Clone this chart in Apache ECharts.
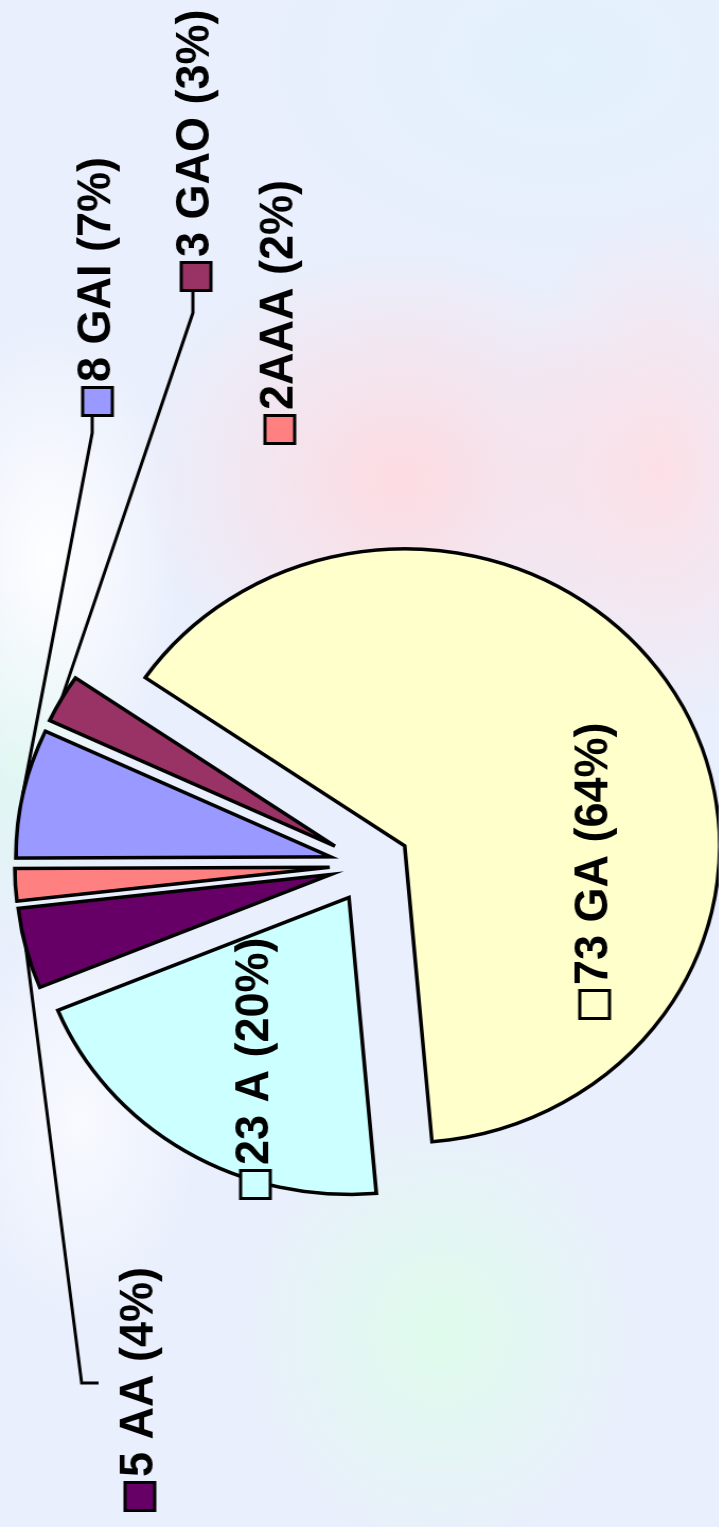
<!DOCTYPE html>
<html>
<head>
<meta charset="utf-8">
<script src="https://cdn.jsdelivr.net/npm/echarts@6/dist/echarts.min.js"></script>
<style>
  html, body {
    margin: 0;
    padding: 0;
    width: 719px;
    height: 1527px;
    overflow: hidden;
  }
  body {
    background:
      radial-gradient(ellipse 260px 230px at 400px 480px, rgba(255, 218, 224, 0.95), rgba(255, 218, 224, 0)),
      radial-gradient(ellipse 160px 260px at 660px 470px, rgba(255, 222, 228, 0.9), rgba(255, 222, 228, 0)),
      radial-gradient(ellipse 200px 220px at 440px 1330px, rgba(222, 252, 234, 0.95), rgba(222, 252, 234, 0)),
      radial-gradient(ellipse 130px 240px at 50px 560px, rgba(255, 255, 255, 0.95), rgba(255, 255, 255, 0)),
      radial-gradient(ellipse 90px 200px at 20px 760px, rgba(222, 248, 240, 0.9), rgba(222, 248, 240, 0)),
      radial-gradient(ellipse 120px 200px at 80px 1120px, rgba(250, 251, 255, 0.9), rgba(250, 251, 255, 0)),
      radial-gradient(ellipse 300px 200px at 560px 60px, rgba(226, 242, 253, 0.9), rgba(226, 242, 253, 0)),
      #e9effc;
  }
  /* chart is laid out landscape, then turned to read bottom-to-top */
  #chart {
    position: absolute;
    left: 0;
    top: 0;
    width: 1527px;
    height: 678px;
    transform-origin: 0 0;
    transform: translateY(1527px) rotate(-90deg) scaleY(1.06);
  }
</style>
</head>
<body>
<div id="chart"></div>
<script>
  const categories = ['GA', 'A', 'AA', 'AAA', 'GAI', 'GAO'];
  const values = [73, 23, 5, 2, 8, 3];
  const colors = ['#FFFFCC', '#CCFFFF', '#660066', '#FF8080', '#9999FF', '#993366'];
  const separators = [' ', ' ', ' ', '', ' ', ' '];

  const pieCenter = [662, 349];
  const pieRadius = 297;
  const explode = 38;

  // label anchor (left-middle) and leader bends, in the landscape frame
  const labelSpots = [[510, 561], [330, 241], [18, 132], [1085, 264], [1113, 92], [1238, 185]];
  const leaderBends = {
    2: [[144, 77], [144, 93]],
    4: [[1094, 87], [1112, 87]],
    5: [[1214, 182], [1236, 182]]
  };

  const rich = {
    gap: { width: 7, fontSize: 16 },
    txt: {
      fontFamily: 'Liberation Sans, Arial, sans-serif',
      fontWeight: 'bold',
      fontSize: 45,
      color: '#000'
    }
  };
  colors.forEach((c, i) => {
    rich['b' + i] = {
      width: 25,
      height: 25,
      backgroundColor: c,
      borderColor: '#000',
      borderWidth: 3
    };
  });

  const common = {
    type: 'pie',
    center: pieCenter,
    radius: pieRadius,
    startAngle: 55.5,
    clockwise: true,
    percentPrecision: 0,
    avoidLabelOverlap: false,
    minShowLabelAngle: 0,
    emphasis: { disabled: true }
  };

  const chart = echarts.init(document.getElementById('chart'));

  chart.setOption({
    animation: false,
    series: [
      // the exploded slices
      Object.assign({}, common, {
        z: 2,
        selectedMode: 'multiple',
        selectedOffset: explode,
        itemStyle: { borderColor: '#000', borderWidth: 3.5, borderJoin: 'miter' },
        label: { show: false },
        labelLine: { show: false },
        data: categories.map((name, i) => ({
          name,
          value: values[i],
          selected: true,
          itemStyle: { color: colors[i] }
        }))
      }),
      // same pie, invisible, carrying the labels
      Object.assign({}, common, {
        z: 3,
        silent: true,
        itemStyle: { color: 'rgba(0,0,0,0)', borderWidth: 0 },
        label: {
          show: true,
          position: 'outside',
          formatter: (p) => `{b${p.dataIndex}|}{gap| }{txt|${p.value}${separators[p.dataIndex]}${p.name} (${p.percent}%)}`,
          rich
        },
        labelLine: {
          show: true,
          length: 10,
          length2: 10,
          lineStyle: { color: '#000', width: 3 }
        },
        labelLayout: (params) => {
          const i = params.dataIndex;
          const out = {
            x: labelSpots[i][0],
            y: labelSpots[i][1],
            align: 'left',
            verticalAlign: 'middle'
          };
          if (leaderBends[i] && params.labelLinePoints) {
            // push the leader start out to the exploded slice edge
            const s = params.labelLinePoints[0];
            const vx = s[0] - pieCenter[0];
            const vy = s[1] - pieCenter[1];
            const len = Math.sqrt(vx * vx + vy * vy) || 1;
            const start = [s[0] + vx / len * explode, s[1] + vy / len * explode];
            out.labelLinePoints = [start].concat(leaderBends[i]);
          }
          return out;
        },
        data: categories.map((name, i) => ({
          name,
          value: values[i],
          labelLine: { show: !!leaderBends[i] }
        }))
      })
    ]
  });
</script>
</body>
</html>
